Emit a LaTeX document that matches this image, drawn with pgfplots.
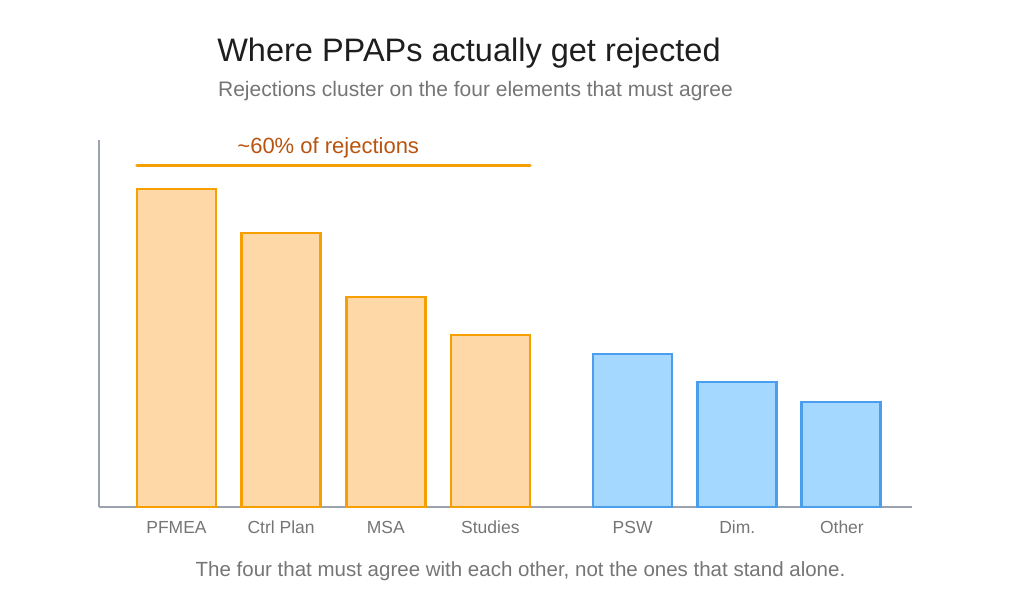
\documentclass[border=0pt]{standalone}
\usepackage{pgfplots}
\pgfplotsset{compat=1.18}
\usepackage{fontspec}
\setmainfont{Liberation Sans}
\definecolor{orangeS}{HTML}{F59F00}
\definecolor{orangeF}{HTML}{FFD8A8}
\definecolor{blueS}{HTML}{4A9EED}
\definecolor{blueF}{HTML}{A5D8FF}
\definecolor{annot}{HTML}{B8540F}
\definecolor{axisgray}{HTML}{9CA3AF}
\definecolor{titlec}{HTML}{1E1E1E}
\definecolor{subc}{HTML}{757575}
\begin{document}
\begin{tikzpicture}[x=1pt,y=1pt]
\useasboundingbox (0,0) rectangle (1017,606);
\begin{axis}[
  at={(99pt,99pt)}, anchor=south west,
  width=813pt, height=367pt, scale only axis,
  xmin=-0.741, xmax=7.03, ymin=0, ymax=36.7,
  axis lines=left,
  axis line style={axisgray, line width=1.5pt, -},
  ytick=\empty,
  xtick={0,1,2,3,4.36,5.36,6.36},
  xticklabels={PFMEA,Ctrl Plan,MSA,Studies,PSW,Dim.,Other},
  major tick length=0pt,
  xticklabel style={subc, font=\fontsize{17.5}{20}\selectfont, anchor=base, yshift=-26pt},
  ybar, bar width=79pt, bar shift=0pt,
  clip=false,
]
\addplot[fill=orangeF, draw=orangeS, line width=2.6pt] coordinates {(0,31.8) (1,27.4) (2,21.0) (3,17.2)};
\addplot[fill=blueF, draw=blueS, line width=2.6pt] coordinates {(4.36,15.3) (5.36,12.5) (6.35,10.5)};
\draw[orangeS, line width=3pt, line cap=round] (axis cs:-0.378,34.1) -- (axis cs:3.38,34.1);
\node[annot, font=\fontsize{22}{26}\selectfont] at (axis cs:1.45,35.9) {\textasciitilde 60\% of rejections};
\end{axis}
\node[titlec, font=\fontsize{32.5}{38}\selectfont] at (469,553) {Where PPAPs actually get rejected};
\node[subc, font=\fontsize{21}{25}\selectfont] at (475.5,515) {Rejections cluster on the four elements that must agree};
\node[subc, font=\fontsize{20.5}{24}\selectfont] at (520.5,35) {The four that must agree with each other, not the ones that stand alone.};
\end{tikzpicture}
\end{document}
